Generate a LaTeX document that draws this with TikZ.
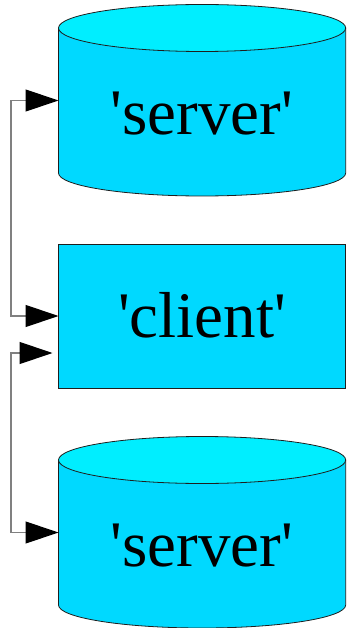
\documentclass[tikz,border=0pt]{standalone}
\usepackage{fontspec}
\newfontfamily\lblfont{Liberation Serif}[Ligatures=TeXOff]
\usetikzlibrary{arrows.meta}
\definecolor{cylside}{RGB}{0,217,255}
\definecolor{cyltop}{RGB}{0,238,255}
\definecolor{edge}{RGB}{30,30,30}
\definecolor{wire}{RGB}{128,128,128}

% cylinder drawn round the body node #1 (from the top rim centre to the bottom rim centre)
\newcommand\cylfrom[1]{%
  \path[fill=cylside, draw=edge, line width=0.8pt]
    (#1.north west) -- (#1.south west)
    arc[start angle=180, end angle=360, x radius=143.6pt, y radius=23pt]
    -- (#1.north east) -- cycle;
  \path[fill=cyltop, draw=edge, line width=0.8pt]
    (#1.north) ellipse[x radius=143.6pt, y radius=23.5pt];
}

\begin{document}
\begin{tikzpicture}[x=1pt,y=1pt,
  body/.style={minimum width=287.2pt, minimum height=145pt, inner sep=0pt, outer sep=0pt},
  clientbox/.style={draw=edge, fill=cylside, line width=0.8pt, minimum width=287.2pt,
    minimum height=144pt, inner sep=0pt, outer sep=0pt},
  lbl/.style={font=\lblfont\fontsize{65}{78}\selectfont, inner sep=0pt, anchor=base},
  conn/.style={draw=wire, line width=1.2pt,
    {Triangle[length=33pt,width=22pt,black]}-{Triangle[length=33pt,width=22pt,black]}},
]
\useasboundingbox (0,0) rectangle (347,-628);

\node[body] (srv1) at (202.1,-100.5) {};
\cylfrom{srv1}
\node[clientbox] (client) at (202.1,-316) {};
\node[body] (srv2) at (202.1,-532.5) {};
\cylfrom{srv2}

\node[lbl] (srv1txt) at ([yshift=-34.5pt]srv1.center) {'server'};
\node[lbl] (clienttxt) at ([yshift=-21pt]client.center) {'client'};
\node[lbl] (srv2txt) at ([yshift=-34pt]srv2.center) {'server'};

\draw[conn] (srv1.west) -- ++(-47.5,0) |- (client.west);
\draw[conn, shorten <=6pt] ([yshift=-37pt]client.west) -- ++(-47.5,0) |- (srv2.west);
\end{tikzpicture}
\end{document}
